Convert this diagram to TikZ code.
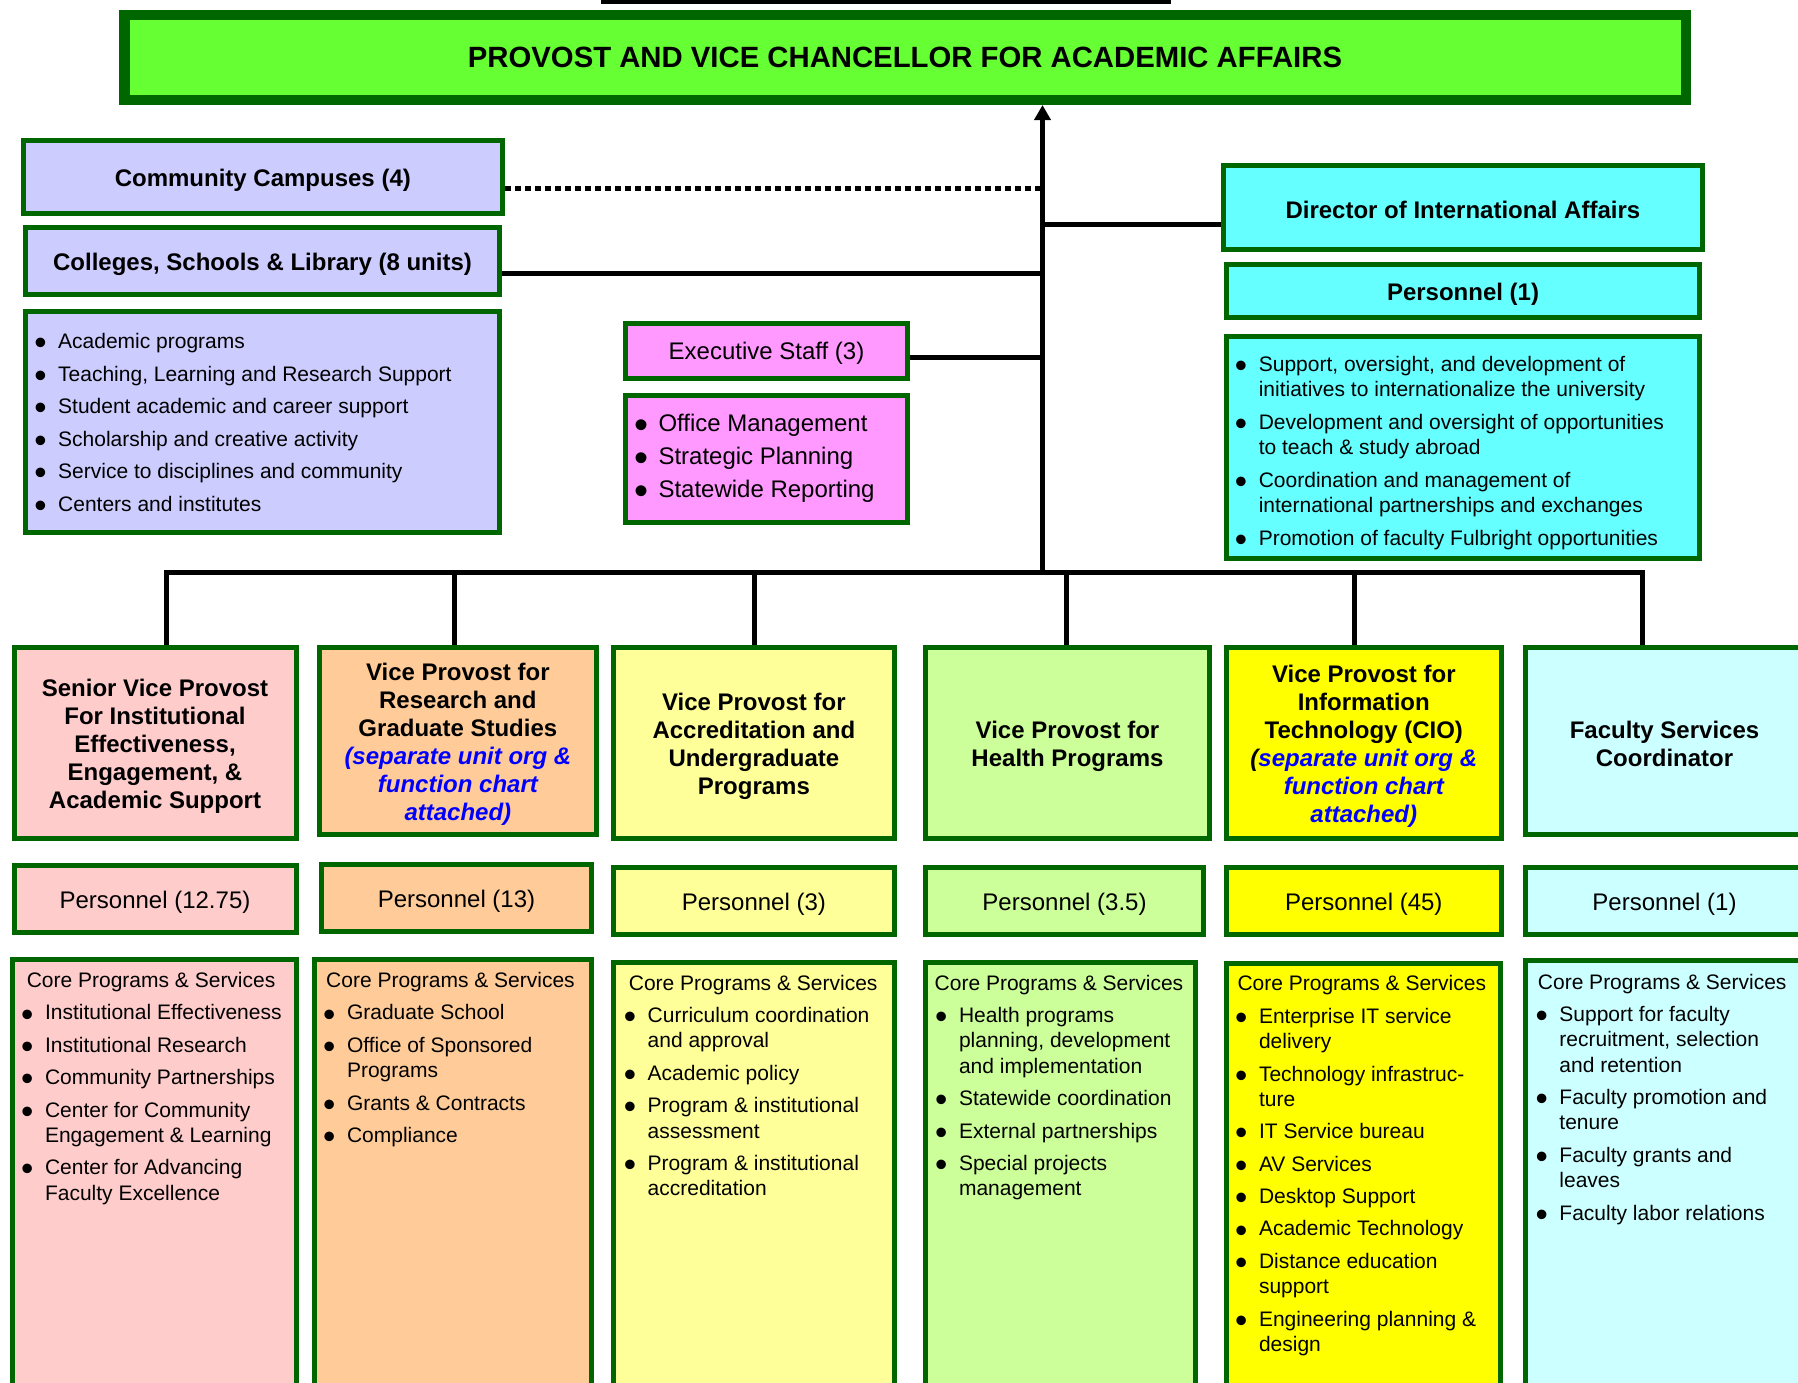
\documentclass[tikz,border=0pt]{standalone}
\usepackage{fontspec}
\setmainfont{Liberation Sans}
\usetikzlibrary{arrows.meta,fit}
\definecolor{bd}{HTML}{006600}
\definecolor{topg}{HTML}{66FF33}
\definecolor{lav}{HTML}{CCCCFF}
\definecolor{pnk}{HTML}{FF99FF}
\definecolor{cyn}{HTML}{66FFFF}
\definecolor{cA}{HTML}{FFCCCC}
\definecolor{cB}{HTML}{FFCC99}
\definecolor{cC}{HTML}{FFFF99}
\definecolor{cD}{HTML}{CCFF99}
\definecolor{cE}{HTML}{FFFF00}
\definecolor{cF}{HTML}{CCFFFF}
\definecolor{lnk}{HTML}{0000FF}
\newlength\isep
\setlength\isep{7pt}
\newcommand\bul{\makebox[21.5pt][l]{\hspace{-2.4pt}\raisebox{-0.29em}[0pt][0pt]{\scalebox{1.67}{\textbullet}}}}
\newcommand\fitm{\hangindent=21.5pt\hangafter=1\noindent\bul}
\newcommand\itm{\par\vspace{\isep}\fitm}
\newcommand\lst[1]{\parbox[t]{600pt}{\raggedright #1}}
\newcommand\bl[1]{\textcolor{lnk}{\itshape #1}}
\newcommand\BX[6]{\node[bx, fill=#2, fit={(#3) (#4)}] (#1) {};
  \node[#5] (#1t) at (#1.center) {#6};}
\tikzset{
  bx/.style={draw=bd, line width=5pt, inner sep=0pt},
  topbx/.style={draw=bd, line width=10.5pt, inner sep=0pt, fill=topg},
  tt/.style={inner sep=0pt, font=\fontsize{29.3}{34}\selectfont\bfseries},
  hd/.style={inner sep=0pt, yshift=-3pt, font=\fontsize{24}{28}\selectfont\bfseries, align=center},
  rg/.style={inner sep=0pt, yshift=-3pt, font=\fontsize{24}{28}\selectfont, align=center},
  lt/.style={anchor=base west, inner sep=0pt, font=\fontsize{21}{25.3}\selectfont},
  lb/.style={anchor=base west, inner sep=0pt, font=\fontsize{24}{28}\selectfont},
  conn/.style={line width=5pt, draw=black},
  dotl/.style={line width=5pt, draw=black, dash pattern=on 6pt off 4pt},
}
\begin{document}
\begin{tikzpicture}[x=1pt,y=-1pt]
\useasboundingbox (0,0) rectangle (1798,1382);
\clip (0,0) rectangle (1798,1382);
\fill[white] (0,0) rectangle (1798,1382);
\fill[black] (601,0) rectangle (1171,3.5);

% top
\node[topbx, fit={(124.25,14.75) (1685.75,99.75)}] (top) {};
\node[tt] (topt) at (top.center) {PROVOST AND VICE CHANCELLOR FOR ACADEMIC AFFAIRS};

% left column
\BX{cc}{lav}{23.2,140.8}{502.5,213.2}{hd}{Community Campuses (4)}
\BX{col}{lav}{25.5,227.5}{499.5,294.5}{hd}{Colleges, Schools \& Library (8 units)}
\node[bx, fill=lav, fit={(25.5,311.5) (499.5,532.5)}] (colb) {};
\node[lt] (colt) at (36.5,348.5) {\lst{\setlength\isep{7.3pt}\fitm Academic programs\itm Teaching, Learning and Research Support\itm Student academic and career support\itm Scholarship and creative activity\itm Service to disciplines and community\itm Centers and institutes}};

% executive staff
\BX{ex}{pnk}{625.5,323.5}{907.5,378}{rg}{Executive Staff (3)}
\node[bx, fill=pnk, fit={(625.5,395.5) (907.5,522.5)}] (exb) {};
\node[lb] (ext) at (636.8,431.2) {\lst{\setlength\isep{5pt}\fitm Office Management\itm Strategic Planning\itm Statewide Reporting}};

% international
\BX{dir}{cyn}{1223.2,165.3}{1702.5,249}{hd}{Director of International Affairs}
\BX{dirp}{cyn}{1226.5,264.5}{1699.5,317.5}{hd}{Personnel (1)}
\node[bx, fill=cyn, fit={(1226.5,336.2) (1699.5,558)}] (dirb) {};
\node[lt] (dirt) at (1237.1,371.5) {\lst{\setlength\isep{7.3pt}\fitm Support, oversight, and development of\newline initiatives to internationalize the university\itm Development and oversight of opportunities\newline to teach \& study abroad\itm Coordination and management of\newline international partnerships and exchanges\itm Promotion of faculty Fulbright opportunities}};

% vice provost row
\BX{vp1}{cA}{14,647.5}{296,838.5}{hd}{Senior Vice Provost\\For Institutional\\Effectiveness,\\Engagement, \&\\Academic Support}
\BX{vp2}{cB}{319.5,647.5}{596.2,834.2}{hd}{Vice Provost for\\Research and\\Graduate Studies\\\bl{(separate unit org \&}\\\bl{function chart}\\\bl{attached)}}
\BX{vp3}{cC}{613.5,647.5}{894.2,838.5}{hd}{Vice Provost for\\Accreditation and\\Undergraduate\\Programs}
\BX{vp4}{cD}{925.5,647.5}{1209.5,838.5}{hd}{Vice Provost for\\Health Programs}
\BX{vp5}{cE}{1226.1,647.5}{1501.5,838.5}{hd}{Vice Provost for\\Information\\Technology (CIO)\\{\itshape(}\bl{separate unit org \&}\\\bl{function chart}\\\bl{attached)}}
\BX{vp6}{cF}{1525.5,647.5}{1803.5,834.2}{hd}{Faculty Services\\Coordinator}

% personnel row
\BX{p1}{cA}{14,865.8}{296,932.5}{rg}{Personnel (12.75)}
\BX{p2}{cB}{321.5,864.2}{591.5,931.8}{rg}{Personnel (13)}
\BX{p3}{cC}{613.5,867.5}{894.2,934.2}{rg}{Personnel (3)}
\BX{p4}{cD}{925.5,867.5}{1203.5,934.2}{rg}{Personnel (3.5)}
\BX{p5}{cE}{1226.1,867.5}{1501.5,934.2}{rg}{Personnel (45)}
\BX{p6}{cF}{1525.5,867.5}{1803.5,934.2}{rg}{Personnel (1)}

% core programs row
\node[bx, fill=cA, fit={(12.8,959.8) (296,1400)}] (c1) {};
\node[bx, fill=cB, fit={(314.2,959.8) (591.5,1400)}] (c2) {};
\node[bx, fill=cC, fit={(613.5,962.5) (894.2,1400)}] (c3) {};
\node[bx, fill=cD, fit={(925.5,962.5) (1195.5,1400)}] (c4) {};
\node[bx, fill=cE, fit={(1226.1,963.2) (1500.5,1400)}] (c5) {};
\node[bx, fill=cF, fit={(1525.5,960.8) (1803.5,1400)}] (c6) {};

\node[lt] (c1t) at (23.3,987.5) {\lst{\setlength\isep{7.1pt}\hspace*{3.3pt}Core Programs \& Services\itm Institutional Effectiveness\itm Institutional Research\itm Community Partnerships\itm Center for Community\newline Engagement \& Learning\itm Center for Advancing\newline Faculty Excellence}};
\node[lt] (c2t) at (325.3,987.5) {\lst{\setlength\isep{7.1pt}\hspace*{0.7pt}Core Programs \& Services\itm Graduate School\itm Office of Sponsored\newline Programs\itm Grants \& Contracts\itm Compliance}};
\node[lt] (c3t) at (626,990.2) {\lst{\setlength\isep{7.1pt}\hspace*{2.7pt}Core Programs \& Services\itm Curriculum coordination\newline and approval\itm Academic policy\itm Program \& institutional\newline assessment\itm Program \& institutional\newline accreditation}};
\node[lt] (c4t) at (937.3,990.2) {\lst{\setlength\isep{7.1pt}\hspace*{-2.8pt}Core Programs \& Services\itm Health programs\newline planning, development\newline and implementation\itm Statewide coordination\itm External partnerships\itm Special projects\newline management}};
\node[lt] (c5t) at (1237.3,990.9) {\lst{\setlength\isep{7.1pt}Core Programs \& Services\itm Enterprise IT service\newline delivery\itm Technology infrastruc-\newline ture\itm IT Service bureau\itm AV Services\itm Desktop Support\itm Academic Technology\itm Distance education\newline support\itm Engineering planning \&\newline design}};
\node[lt] (c6t) at (1537.7,989.2) {\lst{\setlength\isep{7.1pt}Core Programs \& Services\itm Support for faculty\newline recruitment, selection\newline and retention\itm Faculty promotion and\newline tenure\itm Faculty grants and\newline leaves\itm Faculty labor relations}};

% connectors
\coordinate (tb) at (1042.5,572.7);
\coordinate (d1) at (166.5,572.7);
\coordinate (d2) at (454.6,572.7);
\coordinate (d3) at (754.8,572.7);
\coordinate (d4) at (1066,572.7);
\coordinate (d5) at (1354.7,572.7);
\coordinate (d6) at (1642.8,572.7);
\coordinate (dy) at (0,188.5);
\coordinate (cy) at (0,273);
\coordinate (ry) at (0,224.5);
\coordinate (ey) at (0,357);

\draw[conn, -{Triangle[length=15pt,width=16pt]}] (tb) -- (tb |- top.south);
\draw[conn] (d1 |- vp1.north) -- (d1) -- (d6) -- (d6 |- vp6.north);
\draw[conn] (d2) -- (d2 |- vp2.north);
\draw[conn] (d3) -- (d3 |- vp3.north);
\draw[conn] (d4) -- (d4 |- vp4.north);
\draw[conn] (d5) -- (d5 |- vp5.north);
\draw[dotl] (cc.east |- dy) -- (tb |- dy);
\draw[conn] (col.east |- cy) -- (tb |- cy);
\draw[conn] (tb |- ry) -- (dir.west |- ry);
\draw[conn] (ex.east |- ey) -- (tb |- ey);
\end{tikzpicture}
\end{document}
